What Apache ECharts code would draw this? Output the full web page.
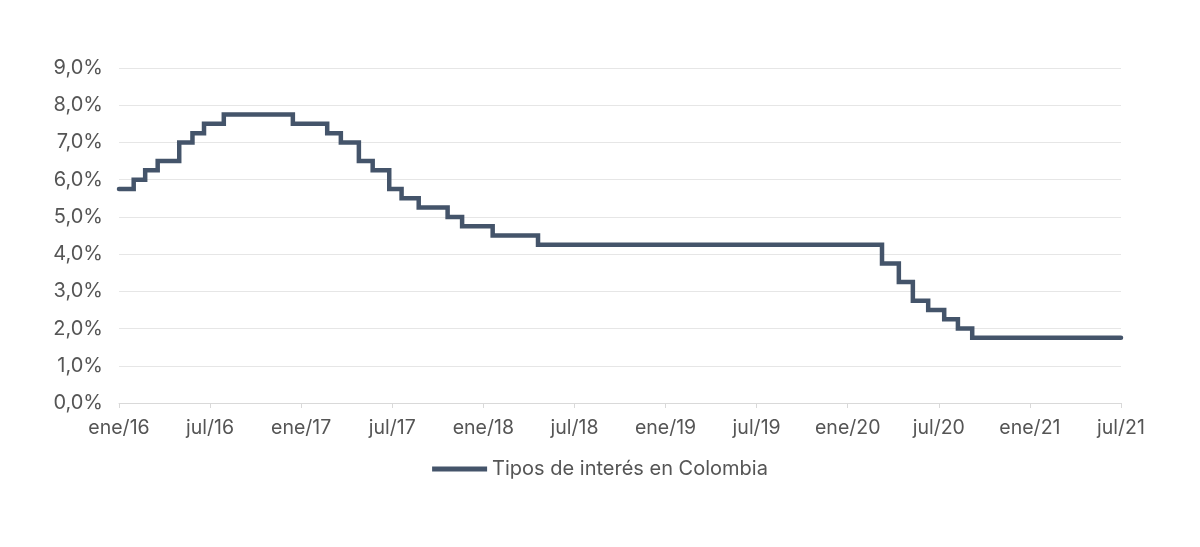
<!DOCTYPE html>
<html>
<head>
<meta charset="utf-8">
<script src="https://cdn.jsdelivr.net/npm/echarts@6/dist/echarts.min.js"></script>
<style>
html,body{margin:0;padding:0;background:#fff;}
#chart{width:1200px;height:547px;}
</style>
</head>
<body>
<div id="chart"></div>
<script>
// Dates on which the rate changed and the new rate (%)
const changeDates = [
  "2016-01-01","2016-01-31","2016-02-22","2016-03-18","2016-04-30","2016-05-27","2016-06-19","2016-07-29",
  "2016-12-15","2017-02-21","2017-03-20","2017-04-25","2017-05-23","2017-06-25","2017-07-20","2017-08-24",
  "2017-10-21","2017-11-19","2018-01-20","2018-04-19",
  "2020-03-09","2020-04-12","2020-05-10","2020-06-10","2020-07-12","2020-08-09","2020-09-07",
  "2021-07-01"
];
const rates = [
  5.75,6.00,6.25,6.50,7.00,7.25,7.50,7.75,
  7.50,7.25,7.00,6.50,6.25,5.75,5.50,5.25,
  5.00,4.75,4.50,4.25,
  3.75,3.25,2.75,2.50,2.25,2.00,1.75,
  1.75
];
const monthNames = ["ene","feb","mar","abr","may","jun","jul","ago","sep","oct","nov","dic"];
const startYear = 2016;
const seriesName = "Tipos de interés en Colombia";

function toMonthIndex(s){
  const [y,m,d] = s.split("-").map(Number);
  const dim = new Date(y, m, 0).getDate();
  return (y-startYear)*12 + (m-1) + (d-1)/dim;
}
const data = changeDates.map((d,i)=>[toMonthIndex(d), rates[i]]);

const textColor = "#555555";
const font = "Inter, Roboto, sans-serif";
const chart = echarts.init(document.getElementById('chart'));
chart.setOption({
  animation:false,
  grid:{left:119,right:79,top:68,bottom:144},
  legend:{
    bottom:63,left:'center',
    itemWidth:55,itemHeight:5,itemGap:4,
    textStyle:{color:textColor,fontSize:20,fontFamily:font},
    data:[{name:seriesName,icon:'path://M0,0 L55,0 L55,5 L0,5 Z'}]
  },
  xAxis:{
    type:'value',min:0,max:66,interval:6,
    axisLine:{show:true,lineStyle:{color:'#d9d9d9'}},
    axisTick:{show:true,length:5,lineStyle:{color:'#d9d9d9'}},
    splitLine:{show:false},
    axisLabel:{
      color:textColor,fontSize:19.5,fontFamily:font,margin:15,
      formatter:v=>{const m=Math.round(v); return monthNames[m%12]+"/"+String((startYear+Math.floor(m/12))%100).padStart(2,'0');}
    }
  },
  yAxis:{
    type:'value',min:0,max:9,interval:1,
    axisLine:{show:false},axisTick:{show:false},
    splitLine:{lineStyle:{color:'#e6e6e6',width:1}},
    axisLabel:{
      color:textColor,fontSize:20,fontFamily:font,margin:16,
      formatter:v=>v.toFixed(1).replace('.',',')+'%'
    }
  },
  series:[{
    name:seriesName,type:'line',step:'end',data:data,
    showSymbol:false,symbol:'none',
    lineStyle:{color:'#44546a',width:4.5,cap:'round',join:'miter'},
    itemStyle:{color:'#44546a'}
  }]
});
</script>
</body>
</html>
